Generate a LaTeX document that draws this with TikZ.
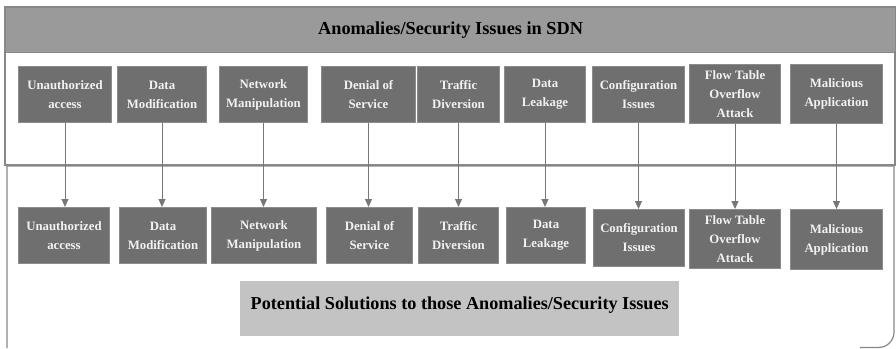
\documentclass[tikz,border=0pt]{standalone}
\usepackage{fontspec}
\setmainfont{Liberation Serif}
\usetikzlibrary{arrows.meta}
\definecolor{band}{HTML}{9A9A9A}
\definecolor{boxfill}{HTML}{6F6F6F}
\definecolor{boxline}{HTML}{8C8C8C}
\definecolor{panelline}{HTML}{888888}
\definecolor{solfill}{HTML}{C3C3C3}
\definecolor{boxtext}{HTML}{F2F2F2}
\definecolor{arrowcol}{HTML}{777777}
\tikzset{
  issue/.style={draw=boxline, line width=1pt, fill=boxfill, text=boxtext, align=center,
    anchor=north west, inner sep=0pt,
    font=\bfseries\fontsize{12.8}{19}\selectfont},
  link/.style={draw=arrowcol, line width=1pt, -{Triangle[length=8pt,width=7pt]}},
  panel/.style={draw=panelline, line width=1.2pt}
}
\newcommand{\issuebox}[6]{% name, x1, y1, x2, y2, text
  \node[issue, minimum width=#4-#2, minimum height=#5-#3] (#1) at (#2,#3) {#6};}
\begin{document}
\begin{tikzpicture}[x=1pt,y=-1pt]
\useasboundingbox (0,0) rectangle (896,348);
\fill[white] (0,0) rectangle (896,348);
% top panel
\draw[panel] (5,7) rectangle (895,165);
\node[draw=panelline, line width=1.2pt, fill=band, anchor=north west, minimum width=890pt, minimum height=45pt, inner sep=0pt,
  font=\bfseries\fontsize{18.3}{21}\selectfont] (title) at (5,7) {Anomalies/Security Issues in SDN};
% bottom panel
\draw[panel] (7,348) -- (7,166) -- (894,166) -- (894,332)
  .. controls (894,340.3) and (887.3,347.4) .. (879,347.4) -- (860,347.4);
% top row
\issuebox{t1}{18}{66}{111}{122}{Unauthorized\\access}
\issuebox{t2}{117}{66}{206}{122}{Data\\Modification}
\issuebox{t3}{219}{66}{307}{122}{Network\\Manipulation}
\issuebox{t4}{321}{66}{415}{122}{Denial of\\Service}
\issuebox{t5}{417}{66}{499}{122}{Traffic\\Diversion}
\issuebox{t6}{504}{66}{585}{122}{Data\\Leakage}
\issuebox{t7}{592}{66}{684}{122}{Configuration\\Issues}
\issuebox{t8}{689}{64}{780}{123}{Flow Table\\Overflow\\Attack}
\issuebox{t9}{790}{64}{882}{123}{Malicious\\Application}
% bottom row
\issuebox{b1}{18}{207}{109}{263}{Unauthorized\\access}
\issuebox{b2}{119}{207}{206}{263}{Data\\Modification}
\issuebox{b3}{211}{207}{316}{263}{Network\\Manipulation}
\issuebox{b4}{326}{207}{412}{263}{Denial of\\Service}
\issuebox{b5}{418}{207}{498}{263}{Traffic\\Diversion}
\issuebox{b6}{506}{207}{585}{263}{Data\\Leakage}
\issuebox{b7}{593}{209}{684}{266}{Configuration\\Issues}
\issuebox{b8}{689}{209}{780}{268}{Flow Table\\Overflow\\Attack}
\issuebox{b9}{790}{209}{882}{269}{Malicious\\Application}
% connectors
\foreach \i in {1,...,9} {
  \draw[link] (t\i.south) -- (t\i.south |- b\i.north);
}
% solutions
\node[fill=solfill, draw=none, anchor=north west, minimum width=439pt, minimum height=55pt, inner sep=0pt,
  text height=13pt, text depth=11pt,
  font=\bfseries\fontsize{18.2}{21}\selectfont] (sol) at (240,281) {Potential Solutions to those Anomalies/Security Issues};
\end{tikzpicture}
\end{document}
